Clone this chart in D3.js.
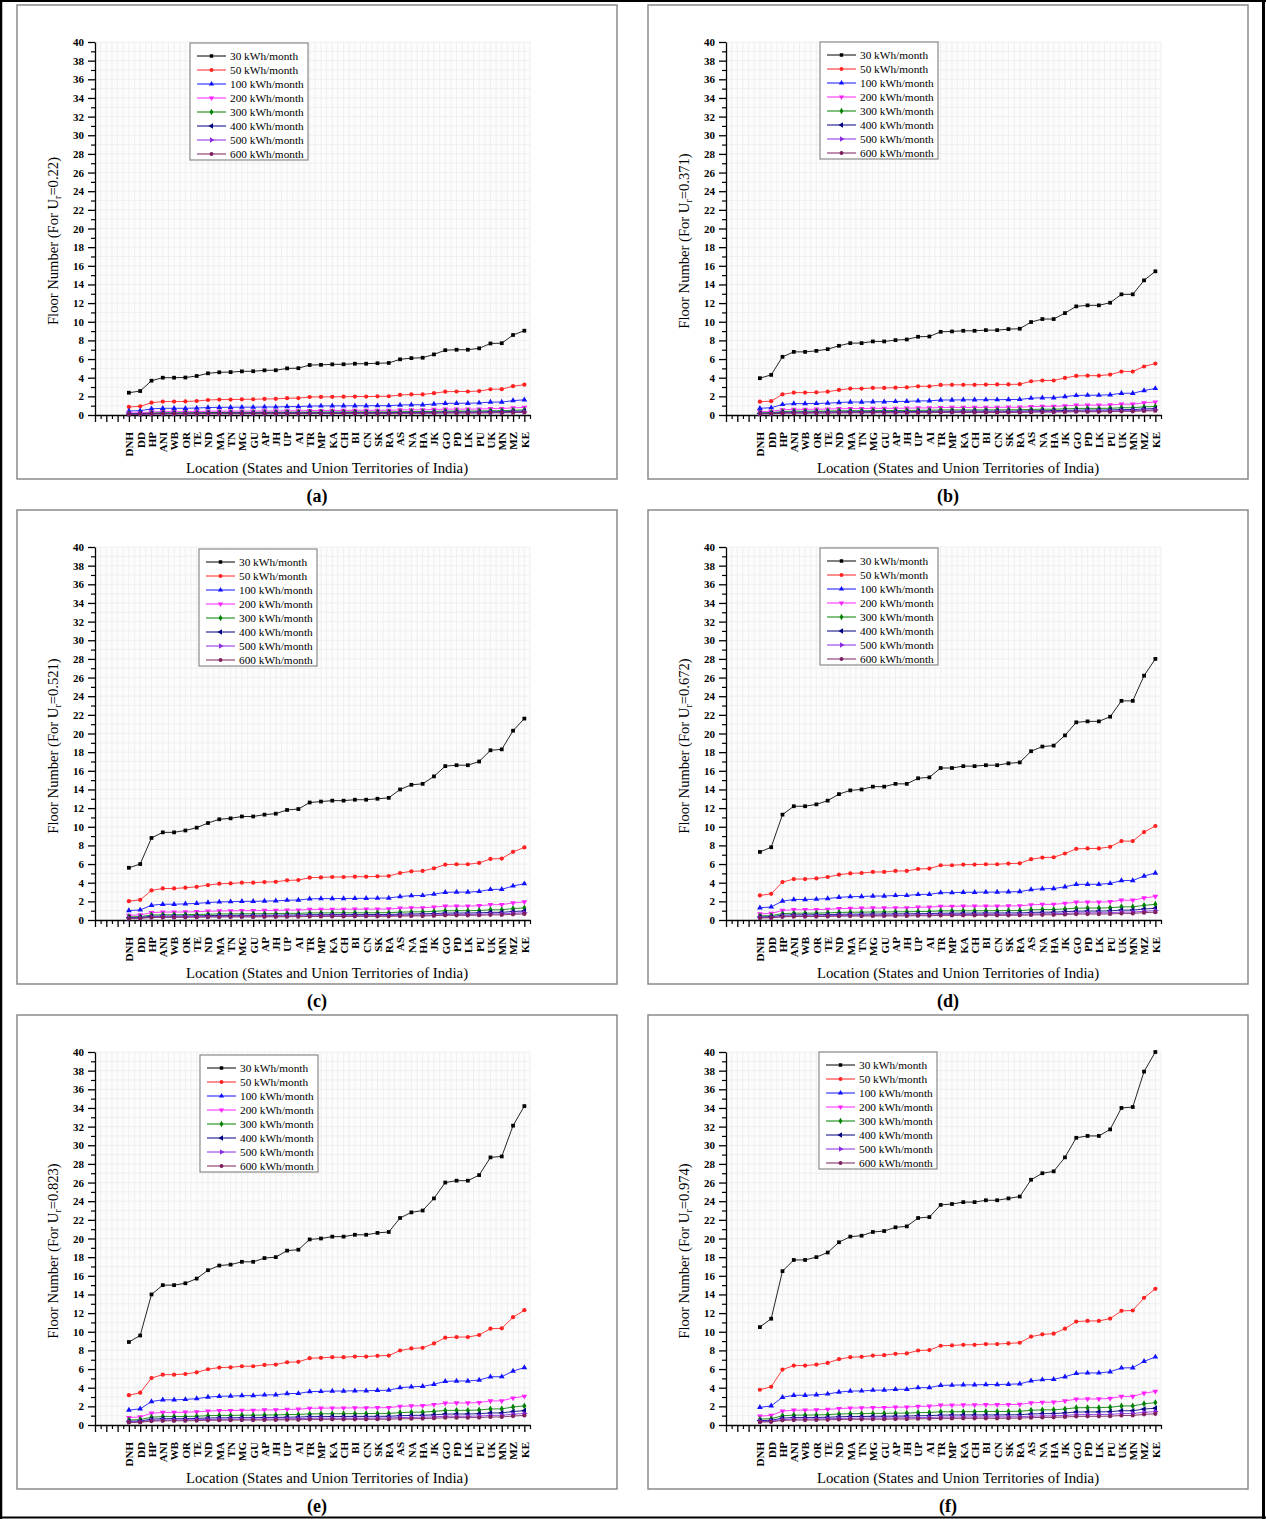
<!DOCTYPE html>
<html>
<head>
<meta charset="utf-8">
<script src="https://cdn.jsdelivr.net/npm/d3@7"></script>
<style>
  body { margin: 0; background: #fff; }
  svg { display: block; }
  text { font-family: "Liberation Serif", "Times New Roman", serif; fill: #000; }
</style>
</head>
<body>
<svg id="fig" width="1266" height="1519"></svg>
<script>
// States and Union Territories of India, in plotted order
const locations = ["DNH","DD","HP","ANI","WB","OR","TE","ND","MA","TN","MG","GU","AP","JH","UP","AI","TR","MP","KA","CH","BI","CN","SK","RA","AS","NA","HA","JK","GO","PD","LK","PU","UK","MN","MZ","KE"];
const consumptionLabels = ["30 kWh/month","50 kWh/month","100 kWh/month","200 kWh/month","300 kWh/month","400 kWh/month","500 kWh/month","600 kWh/month"];
const urValues = ["0.22","0.371","0.521","0.672","0.823","0.974"];
const panelLetters = ["(a)","(b)","(c)","(d)","(e)","(f)"];
const yTickValues = [0,2,4,6,8,10,12,14,16,18,20,22,24,26,28,30,32,34,36,38,40];

// Floor numbers, U_r = 0.22
const a30  = [2.39,2.57,3.68,4.0,4.0,4.02,4.18,4.47,4.58,4.6,4.68,4.69,4.79,4.8,5.0,5.02,5.36,5.38,5.43,5.44,5.5,5.5,5.55,5.58,5.97,6.1,6.14,6.5,6.95,7.0,7.0,7.15,7.67,7.7,8.58,9.04];
const a50  = [0.86,0.93,1.32,1.44,1.44,1.45,1.5,1.61,1.65,1.66,1.68,1.69,1.72,1.73,1.8,1.81,1.93,1.94,1.95,1.96,1.98,1.98,2.0,2.01,2.15,2.2,2.21,2.34,2.5,2.52,2.52,2.57,2.76,2.77,3.09,3.25];
const a100 = [0.43,0.46,0.66,0.72,0.72,0.72,0.75,0.8,0.82,0.83,0.84,0.84,0.86,0.86,0.9,0.9,0.96,0.97,0.98,0.98,0.99,0.99,1.0,1.0,1.07,1.1,1.1,1.17,1.25,1.26,1.26,1.29,1.38,1.39,1.54,1.63];
const a200 = [0.22,0.23,0.33,0.36,0.36,0.36,0.38,0.4,0.41,0.41,0.42,0.42,0.43,0.43,0.45,0.45,0.48,0.48,0.49,0.49,0.5,0.5,0.5,0.5,0.54,0.55,0.55,0.59,0.63,0.63,0.63,0.64,0.69,0.69,0.77,0.81];
const a300 = [0.14,0.15,0.22,0.24,0.24,0.24,0.25,0.27,0.27,0.28,0.28,0.28,0.29,0.29,0.3,0.3,0.32,0.32,0.33,0.33,0.33,0.33,0.33,0.33,0.36,0.37,0.37,0.39,0.42,0.42,0.42,0.43,0.46,0.46,0.51,0.54];
const a400 = [0.11,0.12,0.17,0.18,0.18,0.18,0.19,0.2,0.21,0.21,0.21,0.21,0.22,0.22,0.23,0.23,0.24,0.24,0.24,0.24,0.25,0.25,0.25,0.25,0.27,0.27,0.28,0.29,0.31,0.32,0.32,0.32,0.35,0.35,0.39,0.41];
const a500 = [0.09,0.09,0.13,0.14,0.14,0.14,0.15,0.16,0.16,0.17,0.17,0.17,0.17,0.17,0.18,0.18,0.19,0.19,0.2,0.2,0.2,0.2,0.2,0.2,0.21,0.22,0.22,0.23,0.25,0.25,0.25,0.26,0.28,0.28,0.31,0.33];
const a600 = [0.07,0.08,0.11,0.12,0.12,0.12,0.13,0.13,0.14,0.14,0.14,0.14,0.14,0.14,0.15,0.15,0.16,0.16,0.16,0.16,0.17,0.17,0.17,0.17,0.18,0.18,0.18,0.2,0.21,0.21,0.21,0.21,0.23,0.23,0.26,0.27];

// Floor numbers, U_r = 0.371
const b30  = [3.95,4.3,6.24,6.77,6.77,6.88,7.06,7.42,7.71,7.71,7.89,7.89,8.03,8.1,8.39,8.42,8.92,8.96,9.03,9.03,9.1,9.1,9.21,9.25,9.97,10.29,10.29,10.93,11.65,11.76,11.76,12.04,12.94,12.94,14.44,15.41];
const b50  = [1.43,1.48,2.22,2.4,2.4,2.43,2.5,2.69,2.83,2.83,2.9,2.9,2.93,2.97,3.08,3.08,3.22,3.24,3.24,3.24,3.26,3.28,3.28,3.3,3.62,3.7,3.7,3.98,4.19,4.22,4.22,4.33,4.66,4.66,5.2,5.52];
const b100 = [0.72,0.78,1.13,1.22,1.22,1.24,1.27,1.34,1.39,1.39,1.42,1.42,1.45,1.46,1.51,1.52,1.61,1.61,1.63,1.63,1.64,1.64,1.66,1.67,1.8,1.85,1.85,1.97,2.1,2.12,2.12,2.17,2.33,2.33,2.62,2.85];
const b200 = [0.36,0.39,0.56,0.61,0.61,0.62,0.64,0.67,0.69,0.69,0.71,0.71,0.72,0.73,0.76,0.76,0.8,0.81,0.81,0.81,0.82,0.82,0.83,0.83,0.9,0.93,0.93,0.98,1.05,1.06,1.06,1.08,1.16,1.16,1.3,1.39];
const b300 = [0.24,0.26,0.37,0.41,0.41,0.41,0.42,0.45,0.46,0.46,0.47,0.47,0.48,0.49,0.5,0.51,0.54,0.54,0.54,0.54,0.55,0.55,0.55,0.56,0.6,0.62,0.62,0.66,0.7,0.71,0.71,0.72,0.78,0.78,0.87,0.92];
const b400 = [0.18,0.19,0.28,0.3,0.3,0.31,0.32,0.33,0.35,0.35,0.36,0.36,0.36,0.36,0.38,0.38,0.4,0.4,0.41,0.41,0.41,0.41,0.41,0.42,0.45,0.46,0.46,0.49,0.52,0.53,0.53,0.54,0.58,0.58,0.65,0.69];
const b500 = [0.14,0.15,0.22,0.24,0.24,0.25,0.25,0.27,0.28,0.28,0.28,0.28,0.29,0.29,0.3,0.3,0.32,0.32,0.33,0.33,0.33,0.33,0.33,0.33,0.36,0.37,0.37,0.39,0.42,0.42,0.42,0.43,0.47,0.47,0.52,0.55];
const b600 = [0.12,0.13,0.19,0.2,0.2,0.21,0.21,0.22,0.23,0.23,0.24,0.24,0.24,0.24,0.25,0.25,0.27,0.27,0.27,0.27,0.27,0.27,0.28,0.28,0.3,0.31,0.31,0.33,0.35,0.35,0.35,0.36,0.39,0.39,0.43,0.46];

// Floor numbers, U_r = 0.521
const c30  = [5.6,6.0,8.8,9.4,9.4,9.6,9.9,10.4,10.8,10.9,11.1,11.1,11.3,11.4,11.8,11.9,12.6,12.7,12.8,12.8,12.9,12.9,13.0,13.1,14.0,14.5,14.6,15.4,16.5,16.6,16.6,17.0,18.2,18.3,20.3,21.6];
const c50  = [2.02,2.16,3.17,3.38,3.38,3.46,3.56,3.74,3.89,3.92,4.0,4.0,4.07,4.1,4.25,4.28,4.54,4.57,4.61,4.61,4.64,4.64,4.68,4.72,5.04,5.22,5.26,5.54,5.94,5.98,5.98,6.12,6.55,6.59,7.31,7.78];
const c100 = [1.01,1.08,1.58,1.69,1.69,1.73,1.78,1.87,1.94,1.96,2.0,2.0,2.03,2.05,2.12,2.14,2.27,2.29,2.3,2.3,2.32,2.32,2.34,2.36,2.52,2.61,2.63,2.77,2.97,2.99,2.99,3.06,3.28,3.29,3.65,3.89];
const c200 = [0.5,0.54,0.79,0.85,0.85,0.86,0.89,0.94,0.97,0.98,1.0,1.0,1.02,1.03,1.06,1.07,1.13,1.14,1.15,1.15,1.16,1.16,1.17,1.18,1.26,1.31,1.31,1.39,1.49,1.49,1.49,1.53,1.64,1.65,1.83,1.94];
const c300 = [0.34,0.36,0.53,0.56,0.56,0.58,0.59,0.62,0.65,0.65,0.67,0.67,0.68,0.68,0.71,0.71,0.76,0.76,0.77,0.77,0.77,0.77,0.78,0.79,0.84,0.87,0.88,0.92,0.99,1.0,1.0,1.02,1.09,1.1,1.22,1.3];
const c400 = [0.25,0.27,0.4,0.42,0.42,0.43,0.45,0.47,0.49,0.49,0.5,0.5,0.51,0.51,0.53,0.54,0.57,0.57,0.58,0.58,0.58,0.58,0.59,0.59,0.63,0.65,0.66,0.69,0.74,0.75,0.75,0.77,0.82,0.82,0.91,0.97];
const c500 = [0.2,0.22,0.32,0.34,0.34,0.35,0.36,0.37,0.39,0.39,0.4,0.4,0.41,0.41,0.42,0.43,0.45,0.46,0.46,0.46,0.46,0.46,0.47,0.47,0.5,0.52,0.53,0.55,0.59,0.6,0.6,0.61,0.66,0.66,0.73,0.78];
const c600 = [0.17,0.18,0.26,0.28,0.28,0.29,0.3,0.31,0.32,0.33,0.33,0.33,0.34,0.34,0.35,0.36,0.38,0.38,0.38,0.38,0.39,0.39,0.39,0.39,0.42,0.44,0.44,0.46,0.5,0.5,0.5,0.51,0.55,0.55,0.61,0.65];

// Floor numbers, U_r = 0.672
const d30  = [7.3,7.8,11.3,12.2,12.2,12.4,12.8,13.5,13.9,14.0,14.3,14.3,14.6,14.6,15.2,15.3,16.3,16.3,16.5,16.5,16.6,16.6,16.8,16.9,18.1,18.6,18.7,19.8,21.2,21.3,21.3,21.8,23.5,23.5,26.2,28.0];
const d50  = [2.63,2.81,4.07,4.39,4.39,4.46,4.61,4.86,5.0,5.04,5.15,5.15,5.26,5.26,5.47,5.51,5.87,5.87,5.94,5.94,5.98,5.98,6.05,6.08,6.52,6.7,6.73,7.13,7.63,7.67,7.67,7.85,8.46,8.46,9.43,10.08];
const d100 = [1.31,1.4,2.03,2.2,2.2,2.23,2.3,2.43,2.5,2.52,2.57,2.57,2.63,2.63,2.74,2.75,2.93,2.93,2.97,2.97,2.99,2.99,3.02,3.04,3.26,3.35,3.37,3.56,3.82,3.83,3.83,3.92,4.23,4.23,4.72,5.04];
const d200 = [0.66,0.7,1.02,1.1,1.1,1.12,1.15,1.22,1.25,1.26,1.29,1.29,1.31,1.31,1.37,1.38,1.47,1.47,1.49,1.49,1.49,1.49,1.51,1.52,1.63,1.67,1.68,1.78,1.91,1.92,1.92,1.96,2.12,2.12,2.36,2.52];
const d300 = [0.44,0.47,0.68,0.73,0.73,0.74,0.77,0.81,0.83,0.84,0.86,0.86,0.88,0.88,0.91,0.92,0.98,0.98,0.99,0.99,1.0,1.0,1.01,1.01,1.09,1.12,1.12,1.19,1.27,1.28,1.28,1.31,1.41,1.41,1.57,1.68];
const d400 = [0.33,0.35,0.51,0.55,0.55,0.56,0.58,0.61,0.63,0.63,0.64,0.64,0.66,0.66,0.68,0.69,0.73,0.73,0.74,0.74,0.75,0.75,0.76,0.76,0.81,0.84,0.84,0.89,0.95,0.96,0.96,0.98,1.06,1.06,1.18,1.26];
const d500 = [0.26,0.28,0.41,0.44,0.44,0.45,0.46,0.49,0.5,0.5,0.51,0.51,0.53,0.53,0.55,0.55,0.59,0.59,0.59,0.59,0.6,0.6,0.6,0.61,0.65,0.67,0.67,0.71,0.76,0.77,0.77,0.78,0.85,0.85,0.94,1.01];
const d600 = [0.22,0.23,0.34,0.37,0.37,0.37,0.38,0.41,0.42,0.42,0.43,0.43,0.44,0.44,0.46,0.46,0.49,0.49,0.5,0.5,0.5,0.5,0.5,0.51,0.54,0.56,0.56,0.59,0.64,0.64,0.64,0.65,0.71,0.71,0.79,0.84];

// Floor numbers, U_r = 0.823
const e30  = [8.9,9.6,14.0,15.0,15.0,15.2,15.7,16.6,17.1,17.2,17.5,17.5,17.9,18.0,18.7,18.8,19.9,20.0,20.2,20.2,20.4,20.4,20.6,20.7,22.2,22.8,23.0,24.3,26.0,26.2,26.2,26.8,28.7,28.8,32.1,34.2];
const e50  = [3.2,3.46,5.04,5.4,5.4,5.47,5.65,5.98,6.16,6.19,6.3,6.3,6.44,6.48,6.73,6.77,7.16,7.2,7.27,7.27,7.34,7.34,7.42,7.45,7.99,8.21,8.28,8.75,9.36,9.43,9.43,9.65,10.33,10.37,11.56,12.31];
const e100 = [1.6,1.73,2.52,2.7,2.7,2.74,2.83,2.99,3.08,3.1,3.15,3.15,3.22,3.24,3.37,3.38,3.58,3.6,3.64,3.64,3.67,3.67,3.71,3.73,4.0,4.1,4.14,4.37,4.68,4.72,4.72,4.82,5.17,5.18,5.78,6.16];
const e200 = [0.8,0.86,1.26,1.35,1.35,1.37,1.41,1.49,1.54,1.55,1.58,1.58,1.61,1.62,1.68,1.69,1.79,1.8,1.82,1.82,1.84,1.84,1.85,1.86,2.0,2.05,2.07,2.19,2.34,2.36,2.36,2.41,2.58,2.59,2.89,3.08];
const e300 = [0.53,0.58,0.84,0.9,0.9,0.91,0.94,1.0,1.03,1.03,1.05,1.05,1.07,1.08,1.12,1.13,1.19,1.2,1.21,1.21,1.22,1.22,1.24,1.24,1.33,1.37,1.38,1.46,1.56,1.57,1.57,1.61,1.72,1.73,1.93,2.05];
const e400 = [0.4,0.43,0.63,0.68,0.68,0.68,0.71,0.75,0.77,0.77,0.79,0.79,0.81,0.81,0.84,0.85,0.9,0.9,0.91,0.91,0.92,0.92,0.93,0.93,1.0,1.03,1.04,1.09,1.17,1.18,1.18,1.21,1.29,1.3,1.44,1.54];
const e500 = [0.32,0.35,0.5,0.54,0.54,0.55,0.57,0.6,0.62,0.62,0.63,0.63,0.64,0.65,0.67,0.68,0.72,0.72,0.73,0.73,0.73,0.73,0.74,0.75,0.8,0.82,0.83,0.87,0.94,0.94,0.94,0.96,1.03,1.04,1.16,1.23];
const e600 = [0.27,0.29,0.42,0.45,0.45,0.46,0.47,0.5,0.51,0.52,0.53,0.53,0.54,0.54,0.56,0.56,0.6,0.6,0.61,0.61,0.61,0.61,0.62,0.62,0.67,0.68,0.69,0.73,0.78,0.79,0.79,0.8,0.86,0.86,0.96,1.03];

// Floor numbers, U_r = 0.974
const f30  = [10.5,11.4,16.5,17.7,17.7,18.0,18.5,19.6,20.2,20.3,20.7,20.8,21.2,21.3,22.2,22.3,23.6,23.7,23.9,23.9,24.1,24.1,24.3,24.5,26.3,27.0,27.2,28.7,30.8,31.0,31.0,31.7,34.0,34.1,37.9,40.0];
const f50  = [3.78,4.1,5.94,6.37,6.37,6.48,6.66,7.06,7.27,7.31,7.45,7.49,7.63,7.67,7.99,8.03,8.5,8.53,8.6,8.6,8.68,8.68,8.75,8.82,9.47,9.72,9.79,10.33,11.09,11.16,11.16,11.41,12.24,12.28,13.64,14.6];
const f100 = [1.89,2.05,2.97,3.19,3.19,3.24,3.33,3.53,3.64,3.65,3.73,3.74,3.82,3.83,4.0,4.01,4.25,4.27,4.3,4.3,4.34,4.34,4.37,4.41,4.73,4.86,4.9,5.17,5.54,5.58,5.58,5.71,6.12,6.14,6.82,7.3];
const f200 = [0.95,1.03,1.49,1.59,1.59,1.62,1.67,1.76,1.82,1.83,1.86,1.87,1.91,1.92,2.0,2.01,2.12,2.13,2.15,2.15,2.17,2.17,2.19,2.21,2.37,2.43,2.45,2.58,2.77,2.79,2.79,2.85,3.06,3.07,3.41,3.6];
const f300 = [0.63,0.68,0.99,1.06,1.06,1.08,1.11,1.18,1.21,1.22,1.24,1.25,1.27,1.28,1.33,1.34,1.42,1.42,1.43,1.43,1.45,1.45,1.46,1.47,1.58,1.62,1.63,1.72,1.85,1.86,1.86,1.9,2.04,2.05,2.27,2.4];
const f400 = [0.47,0.51,0.74,0.8,0.8,0.81,0.83,0.88,0.91,0.91,0.93,0.94,0.95,0.96,1.0,1.0,1.06,1.07,1.08,1.08,1.08,1.08,1.09,1.1,1.18,1.22,1.22,1.29,1.39,1.4,1.4,1.43,1.53,1.53,1.71,1.8];
const f500 = [0.38,0.41,0.59,0.64,0.64,0.65,0.67,0.71,0.73,0.73,0.75,0.75,0.76,0.77,0.8,0.8,0.85,0.85,0.86,0.86,0.87,0.87,0.87,0.88,0.95,0.97,0.98,1.03,1.11,1.12,1.12,1.14,1.22,1.23,1.36,1.44];
const f600 = [0.32,0.34,0.5,0.53,0.53,0.54,0.56,0.59,0.61,0.61,0.62,0.62,0.64,0.64,0.67,0.67,0.71,0.71,0.72,0.72,0.72,0.72,0.73,0.74,0.79,0.81,0.82,0.86,0.92,0.93,0.93,0.95,1.02,1.02,1.14,1.2];

const panelSeries = [
  [a30,a50,a100,a200,a300,a400,a500,a600],
  [b30,b50,b100,b200,b300,b400,b500,b600],
  [c30,c50,c100,c200,c300,c400,c500,c600],
  [d30,d50,d100,d200,d300,d400,d500,d600],
  [e30,e50,e100,e200,e300,e400,e500,e600],
  [f30,f50,f100,f200,f300,f400,f500,f600]
];

// ---- styling ----
const seriesColors = ["#000000","#ff2020","#1010ff","#ff20ff","#008000","#000080","#8a2be2","#7b1e5e"];
const seriesMarkers = [
  {type: d3.symbolSquare, rot: 0},
  {type: d3.symbolCircle, rot: 0},
  {type: d3.symbolTriangle, rot: 0},
  {type: d3.symbolTriangle, rot: 180},
  {type: d3.symbolDiamond, rot: 0},
  {type: d3.symbolTriangle, rot: -90},
  {type: d3.symbolTriangle, rot: 90},
  {type: d3.symbolCircle, rot: 0}
];
const legendOffsets = [[173,38],[172,37],[182,39],[172,38],[183,40],[171,37]];

const svg = d3.select("#fig");

// outer table frame
const frame = svg.append("g").attr("stroke", "#000").attr("fill", "none");
frame.append("line").attr("x1", 0).attr("x2", 1266).attr("y1", 1).attr("y2", 1).attr("stroke-width", 2);
frame.append("line").attr("x1", 1).attr("x2", 1).attr("y1", 0).attr("y2", 1519).attr("stroke-width", 2.5);
frame.append("line").attr("x1", 1263.5).attr("x2", 1263.5).attr("y1", 0).attr("y2", 1519).attr("stroke-width", 3);
frame.append("line").attr("x1", 0).attr("x2", 1266).attr("y1", 1517.5).attr("y2", 1517.5).attr("stroke-width", 2);

const BOX_W = 600, BOX_H = 474;
const PL = 78, PR = 513, PT = 37, PB = 410;

panelSeries.forEach((series, p) => {
  const col = p % 2, row = Math.floor(p / 2);
  const bx = col === 0 ? 17 : 648;
  const by = 5 + row * 505;
  const g = svg.append("g");

  // panel border
  g.append("rect").attr("x", bx).attr("y", by).attr("width", BOX_W).attr("height", BOX_H)
    .attr("fill", "#fff").attr("stroke", "#8a8a8a").attr("stroke-width", 1.5);

  const x = d3.scaleLinear().domain([-3, 35.5]).range([bx + PL, bx + PR]);
  const y = d3.scaleLinear().domain([0, 40]).range([by + PB, by + PT]);

  // plot background and grid
  g.append("rect").attr("x", x(-3)).attr("y", y(40)).attr("width", x(35.5) - x(-3)).attr("height", y(0) - y(40))
    .attr("fill", "#fcfcfc");
  const grid = g.append("g").attr("stroke", "#ececec").attr("stroke-width", 0.8);
  grid.selectAll("line.h").data(d3.range(1, 41)).join("line")
    .attr("x1", x(-3)).attr("x2", x(35.5)).attr("y1", d => y(d)).attr("y2", d => y(d));
  grid.selectAll("line.v").data(d3.range(-2.5, 35.6, 0.5)).join("line")
    .attr("y1", y(0)).attr("y2", y(40)).attr("x1", d => x(d)).attr("x2", d => x(d));

  // y axis: major + minor ticks
  const yAxis = g.append("g").attr("transform", `translate(${x(-3)},0)`)
    .call(d3.axisLeft(y).tickValues(yTickValues).tickSize(7).tickSizeOuter(0).tickPadding(4));
  yAxis.selectAll("text").attr("font-size", 11).attr("font-weight", "bold")
    .style("font-family", '"Liberation Serif", serif');
  yAxis.selectAll("line, path").attr("stroke", "#000").attr("stroke-width", 1.3);
  const yMinor = g.append("g").attr("transform", `translate(${x(-3)},0)`)
    .call(d3.axisLeft(y).tickValues(d3.range(1, 40, 2)).tickSize(4).tickSizeOuter(0).tickFormat(""));
  yMinor.select("path").remove();
  yMinor.selectAll("line").attr("stroke", "#000").attr("stroke-width", 1.2);

  // x axis: major ticks at each location, minor at halves
  const xAxis = g.append("g").attr("transform", `translate(0,${y(0)})`)
    .call(d3.axisBottom(x).tickValues(d3.range(-3, 36)).tickSize(7).tickSizeOuter(0)
      .tickFormat(d => d >= 0 ? locations[d] : ""));
  xAxis.selectAll("line, path").attr("stroke", "#000").attr("stroke-width", 1.3);
  xAxis.selectAll("text")
    .attr("transform", "rotate(-90)")
    .attr("x", -17).attr("y", 0).attr("dy", "0.35em")
    .attr("text-anchor", "end")
    .attr("font-size", 11).attr("font-weight", "bold")
    .style("font-family", '"Liberation Serif", serif');
  const xMinor = g.append("g").attr("transform", `translate(0,${y(0)})`)
    .call(d3.axisBottom(x).tickValues(d3.range(-2.5, 35.6, 1)).tickSize(4).tickSizeOuter(0).tickFormat(""));
  xMinor.select("path").remove();
  xMinor.selectAll("line").attr("stroke", "#000").attr("stroke-width", 1.2);

  // axis titles
  g.append("text").attr("x", bx + 310).attr("y", by + 468).attr("text-anchor", "middle")
    .attr("font-size", 14.8).text("Location (States and Union Territories of India)");
  const yt = g.append("text")
    .attr("transform", `translate(${bx + 41},${by + 236}) rotate(-90)`)
    .attr("text-anchor", "middle").attr("font-size", 14.6);
  yt.append("tspan").text("Floor Number (For U");
  yt.append("tspan").attr("font-size", 10).attr("dy", 3).text("r");
  yt.append("tspan").attr("dy", -3).text("=" + urValues[p] + ")");

  // series lines and markers
  const line = d3.line().x((d, i) => x(i)).y(d => y(d));
  series.forEach((vals, s) => {
    g.append("path").datum(vals).attr("d", line)
      .attr("fill", "none").attr("stroke", seriesColors[s]).attr("stroke-width", 1)
      .attr("stroke-opacity", 0.85);
    const sym = d3.symbol().type(seriesMarkers[s].type).size(14);
    g.append("g").selectAll("path").data(vals).join("path")
      .attr("d", sym)
      .attr("transform", (d, i) => `translate(${x(i)},${y(d)}) rotate(${seriesMarkers[s].rot})`)
      .attr("fill", seriesColors[s]);
  });

  // legend
  const [lx, ly] = legendOffsets[p];
  const lg = g.append("g").attr("transform", `translate(${bx + lx},${by + ly})`);
  lg.append("rect").attr("width", 118).attr("height", 117)
    .attr("fill", "#fff").attr("stroke", "#8a8a8a").attr("stroke-width", 1.2);
  consumptionLabels.forEach((lab, s) => {
    const cy = 13 + s * 14;
    lg.append("line").attr("x1", 7).attr("x2", 36).attr("y1", cy).attr("y2", cy)
      .attr("stroke", seriesColors[s]).attr("stroke-width", 1);
    lg.append("path").attr("d", d3.symbol().type(seriesMarkers[s].type).size(12))
      .attr("transform", `translate(21.5,${cy}) rotate(${seriesMarkers[s].rot})`)
      .attr("fill", seriesColors[s]);
    lg.append("text").attr("x", 40).attr("y", cy).attr("dy", "0.35em")
      .attr("font-size", 11.3).text(lab);
  });

  // panel caption
  svg.append("text").attr("x", bx + 300).attr("y", by + 497).attr("text-anchor", "middle")
    .attr("font-size", 18).attr("font-weight", "bold").text(panelLetters[p]);
});
</script>
</body>
</html>
